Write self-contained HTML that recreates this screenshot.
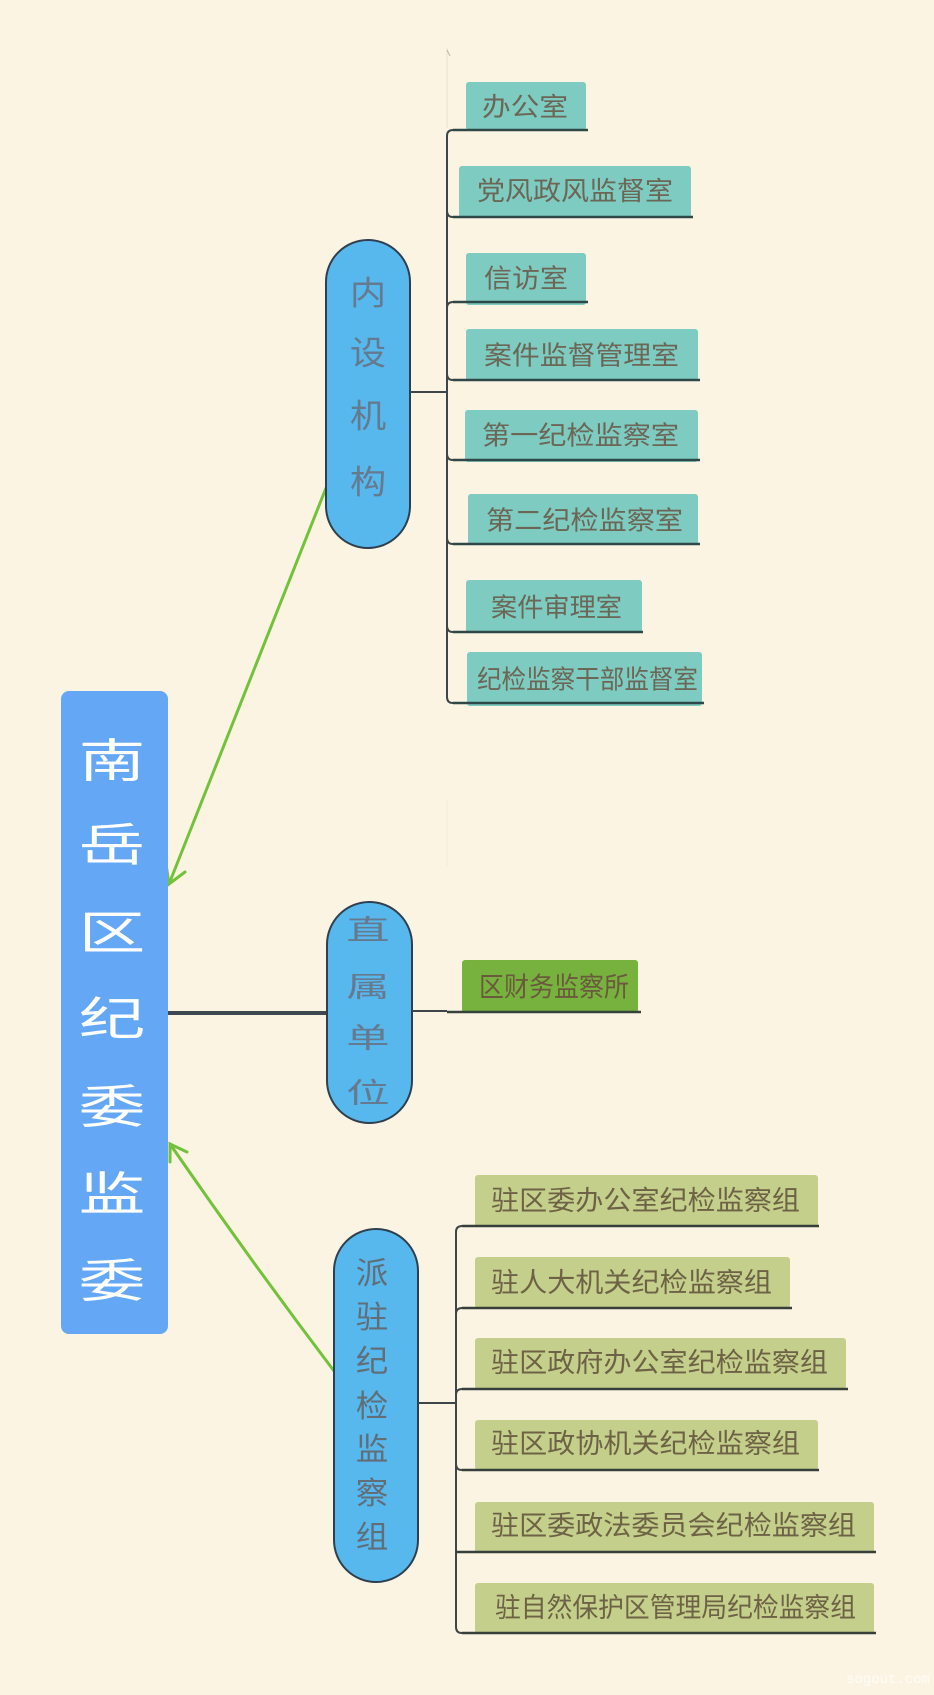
<!DOCTYPE html>
<html>
<head>
<meta charset="utf-8">
<style>
html,body{margin:0;padding:0;background:#fcf4e2;}
svg{display:block;}
.t{font-family:"Liberation Sans","Noto Sans CJK SC",sans-serif;}
</style>
</head>
<body>
<svg width="934" height="1695" viewBox="0 0 934 1695" xmlns="http://www.w3.org/2000/svg">
<rect x="0" y="0" width="934" height="1695" fill="#fcf4e2"/>

<!-- faint artifacts -->
<line x1="447" y1="48" x2="447" y2="128" stroke="#e8e2d2" stroke-width="1"/>
<line x1="447" y1="50" x2="450" y2="56" stroke="#b9b4a8" stroke-width="1"/>
<line x1="447" y1="800" x2="447" y2="866" stroke="#f1ead8" stroke-width="1"/>

<!-- green arrows (under main box) -->
<g stroke="#72c23b" stroke-width="3" fill="none" stroke-linecap="round">
  <line x1="326" y1="488" x2="169" y2="884"/>
  <polyline points="185,872 169,884 166,864"/>
  <path d="M334 1371 Q 250 1260 170 1144"/>
  <polyline points="187,1152 170,1144 170,1162"/>
</g>

<!-- main box -->
<rect x="61" y="691" width="107" height="643" rx="8" fill="#64a7f5"/>
<g class="t" fill="#ffffff" font-size="46" text-anchor="middle">
  <text transform="translate(112,777) scale(1.45,1)">南</text>
  <text transform="translate(112,861) scale(1.45,1)">岳</text>
  <text transform="translate(112,949) scale(1.45,1)">区</text>
  <text transform="translate(112,1035) scale(1.45,1)">纪</text>
  <text transform="translate(112,1123) scale(1.45,1)">委</text>
  <text transform="translate(112,1210) scale(1.45,1)">监</text>
  <text transform="translate(112,1297) scale(1.45,1)">委</text>
</g>

<!-- thick connector main -> 直属单位 -->
<line x1="168" y1="1013" x2="328" y2="1013" stroke="#3d4850" stroke-width="4"/>

<!-- ellipses -->
<g fill="#57b8ee" stroke="#2f3f4f" stroke-width="2">
  <rect x="326" y="240" width="84" height="308" rx="42" ry="42"/>
  <rect x="327" y="902" width="85" height="221" rx="42.5" ry="42.5"/>
  <rect x="334" y="1229" width="84" height="353" rx="42" ry="42"/>
</g>
<g class="t" fill="#667a8f" text-anchor="middle">
  <g font-size="33">
    <text transform="translate(368,304.5) scale(1.1,1)">内</text>
    <text transform="translate(368,364.5) scale(1.1,1)">设</text>
    <text transform="translate(368,427.5) scale(1.1,1)">机</text>
    <text transform="translate(368,493.5) scale(1.1,1)">构</text>
  </g>
  <g font-size="28">
    <text transform="translate(368,939.6) scale(1.55,1)">直</text>
    <text transform="translate(368,996.6) scale(1.55,1)">属</text>
    <text transform="translate(368,1047.6) scale(1.55,1)">单</text>
    <text transform="translate(368,1102.6) scale(1.55,1)">位</text>
  </g>
  <g font-size="31" fill="#616e78">
    <text transform="translate(372,1283.8) scale(1.05,1)">派</text>
    <text transform="translate(372,1327.8) scale(1.05,1)">驻</text>
    <text transform="translate(372,1371.8) scale(1.05,1)">纪</text>
    <text transform="translate(372,1416.8) scale(1.05,1)">检</text>
    <text transform="translate(372,1459.8) scale(1.05,1)">监</text>
    <text transform="translate(372,1503.8) scale(1.05,1)">察</text>
    <text transform="translate(372,1547.8) scale(1.05,1)">组</text>
  </g>
</g>

<!-- teal boxes -->
<g fill="#7dcbc1">
  <rect x="466" y="82" width="120" height="48" rx="3"/>
  <rect x="459" y="166" width="232" height="52" rx="3"/>
  <rect x="466" y="253" width="120" height="52" rx="3"/>
  <rect x="466" y="329" width="232" height="52" rx="3"/>
  <rect x="465" y="410" width="233" height="52" rx="3"/>
  <rect x="468" y="494" width="230" height="51" rx="3"/>
  <rect x="466" y="580" width="176" height="53" rx="3"/>
  <rect x="467" y="652" width="235" height="54" rx="3"/>
</g>
<g class="t" fill="#6b6655" font-size="26">
  <text x="482" y="116" textLength="86" lengthAdjust="spacingAndGlyphs">办公室</text>
  <text x="477" y="200" textLength="196" lengthAdjust="spacingAndGlyphs">党风政风监督室</text>
  <text x="484" y="287.5" textLength="84" lengthAdjust="spacingAndGlyphs">信访室</text>
  <text x="484" y="364.5" textLength="195" lengthAdjust="spacingAndGlyphs">案件监督管理室</text>
  <text x="482" y="444.5" textLength="197" lengthAdjust="spacingAndGlyphs">第一纪检监察室</text>
  <text x="486" y="529.5" textLength="197" lengthAdjust="spacingAndGlyphs">第二纪检监察室</text>
  <text x="491" y="616.5" textLength="131" lengthAdjust="spacingAndGlyphs">案件审理室</text>
  <text x="477" y="688.5" textLength="221" lengthAdjust="spacingAndGlyphs">纪检监察干部监督室</text>
</g>

<!-- group 1 connectors -->
<g stroke="#3e4549" stroke-width="2" fill="none">
  <line x1="410" y1="392" x2="447" y2="392"/>
  <path d="M466 130 H453 Q447 130 447 136 V697 Q447 703 453 703"/>
  <path d="M447 308 Q447 302 453 302 H466"/>
  <path d="M447 374 Q447 380 453 380 H466"/>
  <path d="M447 454 Q447 460 453 460 H466"/>
  <path d="M447 538 Q447 544 453 544 H468"/>
  <path d="M447 626 Q447 632 453 632 H466"/>
  <path d="M447 211 Q447 217 453 217 H459"/>
</g>
<g stroke="#2e4848" stroke-width="2.5">
  <line x1="453" y1="130" x2="588" y2="130"/>
  <line x1="453" y1="217" x2="693" y2="217"/>
  <line x1="453" y1="302" x2="588" y2="302"/>
  <line x1="453" y1="380" x2="700" y2="380"/>
  <line x1="453" y1="460" x2="700" y2="460"/>
  <line x1="453" y1="544" x2="700" y2="544"/>
  <line x1="453" y1="632" x2="643" y2="632"/>
  <line x1="453" y1="703" x2="704" y2="703"/>
</g>

<!-- group 2 -->
<rect x="462" y="960" width="176" height="53" rx="3" fill="#77b23f"/>
<text class="t" x="479" y="996.5" font-size="27" fill="#6a5a3c" textLength="150" lengthAdjust="spacingAndGlyphs">区财务监察所</text>
<line x1="412" y1="1011" x2="447" y2="1011" stroke="#3e4549" stroke-width="2"/>
<line x1="447" y1="1012" x2="641" y2="1012" stroke="#35423a" stroke-width="2.5"/>

<!-- olive boxes -->
<g fill="#c4cf8b">
  <rect x="475" y="1175" width="343" height="52" rx="3"/>
  <rect x="475" y="1257" width="315" height="51" rx="3"/>
  <rect x="475" y="1338" width="371" height="51" rx="3"/>
  <rect x="475" y="1420" width="343" height="50" rx="3"/>
  <rect x="475" y="1502" width="399" height="51" rx="3"/>
  <rect x="475" y="1583" width="399" height="51" rx="3"/>
</g>
<g class="t" fill="#6e6246" font-size="27">
  <text x="491" y="1210" textLength="309" lengthAdjust="spacingAndGlyphs">驻区委办公室纪检监察组</text>
  <text x="491" y="1292" textLength="281" lengthAdjust="spacingAndGlyphs">驻人大机关纪检监察组</text>
  <text x="491" y="1372" textLength="337" lengthAdjust="spacingAndGlyphs">驻区政府办公室纪检监察组</text>
  <text x="491" y="1453" textLength="309" lengthAdjust="spacingAndGlyphs">驻区政协机关纪检监察组</text>
  <text x="491" y="1535" textLength="365" lengthAdjust="spacingAndGlyphs">驻区委政法委员会纪检监察组</text>
  <text x="495" y="1617" textLength="361" lengthAdjust="spacingAndGlyphs">驻自然保护区管理局纪检监察组</text>
</g>

<!-- group 3 connectors -->
<g stroke="#3e4549" stroke-width="2" fill="none">
  <line x1="418" y1="1403" x2="456" y2="1403"/>
  <path d="M475 1226 H462 Q456 1226 456 1232 V1627 Q456 1633 462 1633"/>
  <path d="M456 1314 Q456 1308 462 1308 H475"/>
  <path d="M456 1395 Q456 1389 462 1389 H475"/>
  <path d="M456 1464 Q456 1470 462 1470 H475"/>
  <path d="M456 1552 H475"/>
</g>
<g stroke="#373f3a" stroke-width="2.5">
  <line x1="462" y1="1226" x2="819" y2="1226"/>
  <line x1="462" y1="1308" x2="792" y2="1308"/>
  <line x1="462" y1="1389" x2="848" y2="1389"/>
  <line x1="462" y1="1470" x2="819" y2="1470"/>
  <line x1="456" y1="1552" x2="876" y2="1552"/>
  <line x1="462" y1="1633" x2="876" y2="1633"/>
</g>

<!-- watermark -->
<text x="846" y="1683" font-family="Liberation Mono, monospace" font-size="14" fill="#ffffff" opacity="0.8">sogout.com</text>
</svg>
</body>
</html>
